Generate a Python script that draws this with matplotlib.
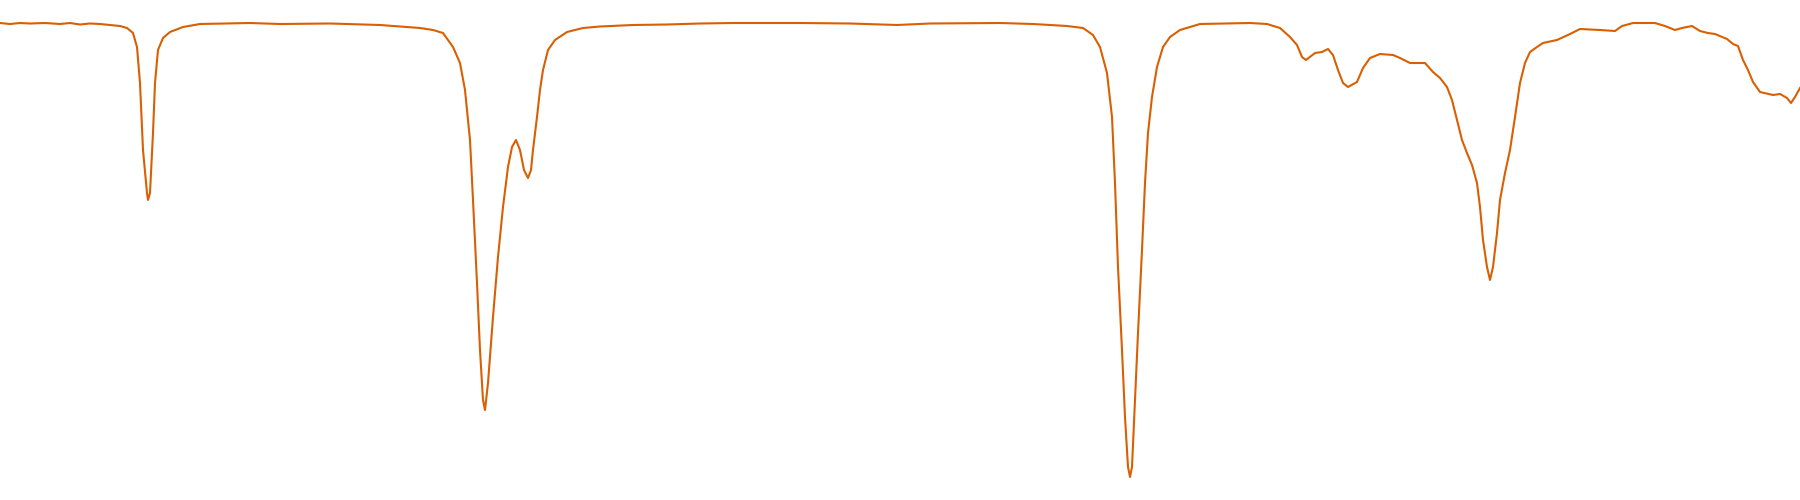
import matplotlib
matplotlib.use("Agg")
import matplotlib.pyplot as plt

# spectrum trace (x position, transmittance %)
position = [0, 10, 20, 30, 45, 60, 70, 80, 90, 100, 110, 120, 127, 133, 137,
            140, 143, 147, 148, 150, 153, 155, 158, 163, 170, 183, 200, 225,
            250, 280, 330, 380, 400, 420, 433, 443, 453, 460, 465, 470, 473,
            477, 480, 483, 485, 488, 493, 498, 503, 508, 512, 516, 520, 524,
            528, 531, 533, 537, 540, 543, 548, 555, 567, 583, 600, 633, 667,
            700, 733, 800, 850, 897, 930, 1000, 1033, 1067, 1083, 1093, 1100,
            1107, 1112, 1115, 1118, 1122, 1125, 1128, 1130, 1132, 1135, 1138,
            1142, 1145, 1148, 1152, 1157, 1163, 1170, 1180, 1200, 1250, 1267,
            1280, 1290, 1297, 1302, 1306, 1315, 1322, 1328, 1333, 1338, 1343,
            1348, 1357, 1363, 1370, 1380, 1393, 1400, 1410, 1425, 1433, 1440,
            1447, 1452, 1457, 1462, 1467, 1472, 1477, 1480, 1483, 1487, 1490,
            1493, 1497, 1500, 1505, 1510, 1515, 1520, 1525, 1530, 1537, 1543,
            1557, 1570, 1580, 1600, 1615, 1622, 1633, 1655, 1665, 1675, 1682,
            1692, 1700, 1708, 1715, 1727, 1733, 1738, 1743, 1748, 1753, 1760,
            1773, 1780, 1787, 1791, 1795, 1800]
transmittance = [95.4, 95.2, 95.4, 95.3, 95.4, 95.2, 95.4, 95.1, 95.3, 95.2,
                 95.0, 94.8, 94.4, 93.4, 90.6, 83.4, 70.0, 61.4, 60.0, 61.4,
                 73.4, 83.4, 90.0, 92.4, 93.6, 94.6, 95.2, 95.3, 95.4, 95.2,
                 95.3, 95.0, 94.7, 94.4, 94.0, 93.4, 90.6, 87.4, 82.0, 72.0,
                 60.0, 43.4, 30.0, 20.0, 18.0, 23.4, 36.6, 48.6, 58.6, 66.6,
                 70.6, 72.0, 70.0, 66.0, 64.4, 66.0, 70.0, 76.6, 82.0, 86.0,
                 90.0, 92.0, 93.6, 94.4, 94.7, 95.0, 95.1, 95.3, 95.4, 95.4,
                 95.3, 95.0, 95.3, 95.4, 95.2, 94.8, 94.4, 93.0, 90.6, 85.4,
                 76.6, 63.4, 46.6, 30.0, 16.6, 6.6, 4.6, 6.6, 20.0, 33.4,
                 50.0, 63.4, 73.4, 80.6, 86.6, 90.6, 92.6, 94.0, 95.2, 95.4,
                 95.2, 94.4, 92.6, 91.0, 88.6, 88.0, 89.4, 89.6, 90.2, 89.0,
                 86.0, 83.4, 82.6, 83.6, 86.4, 88.4, 89.2, 89.0, 88.4, 87.4,
                 87.4, 85.6, 84.4, 82.6, 80.0, 76.0, 72.0, 69.4, 67.0, 63.4,
                 58.6, 52.0, 46.6, 44.0, 46.6, 53.4, 60.0, 65.4, 70.0, 76.6,
                 83.4, 87.4, 89.6, 90.6, 91.4, 92.0, 93.2, 94.2, 94.0, 93.8,
                 94.8, 95.4, 95.4, 94.8, 94.0, 94.4, 94.8, 93.8, 93.4, 93.2,
                 92.2, 91.2, 90.8, 88.0, 86.0, 83.6, 81.6, 81.0, 81.2, 80.4,
                 79.4, 80.6, 82.4]

fig = plt.figure(figsize=(18, 5), dpi=100)
ax = fig.add_axes([0, 0, 1, 1])
ax.plot(position, transmittance, color="#D95F02", linewidth=1.5)
ax.set_xlim(0, 1800)
ax.set_ylim(0, 100)
ax.axis("off")
fig.savefig("out.png", dpi=100)
